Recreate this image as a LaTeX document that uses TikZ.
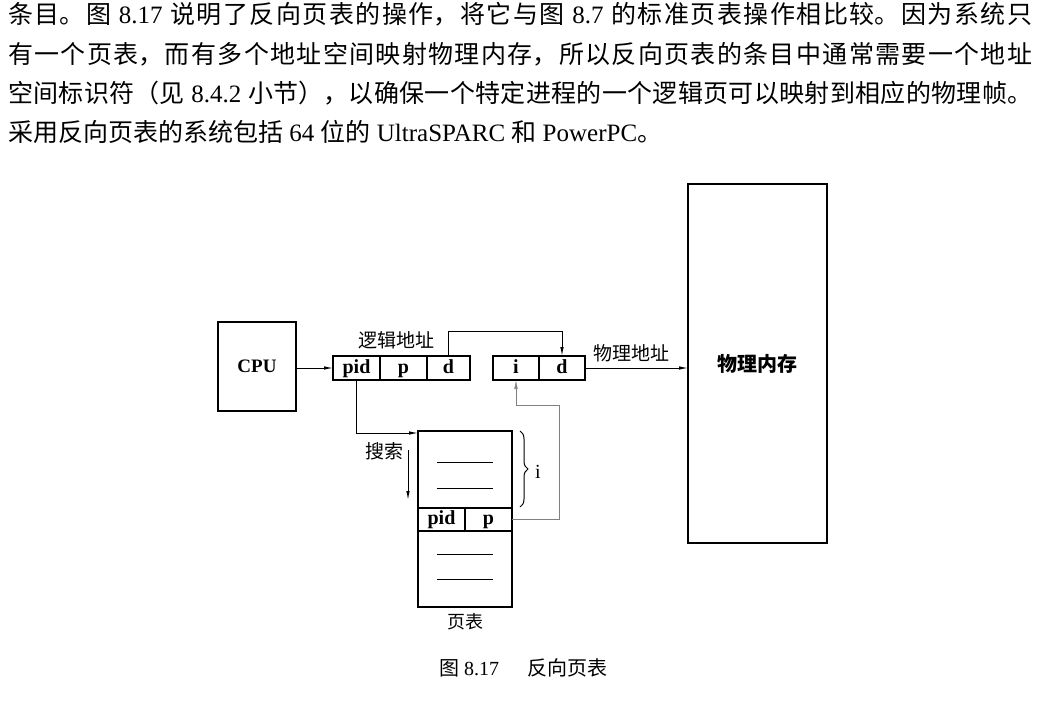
\documentclass[tikz,border=0pt]{standalone}
\usepackage{fontspec}
\setmainfont{Liberation Serif}
\newfontfamily\cjk{Noto Sans CJK SC}
\usetikzlibrary{positioning, arrows.meta, decorations.pathreplacing}
\XeTeXlinebreaklocale "zh"
\XeTeXlinebreakskip=0pt plus 3pt
\newcommand\fullline[1]{\parbox{1024pt}{\parfillskip=0pt\relax\noindent #1}}

\tikzset{
  box/.style={draw, line width=1.5pt, inner sep=0pt, outer sep=0pt,
    font=\fontsize{20}{24}\selectfont\bfseries},
  cell/.style={box, minimum height=24pt, text height=14pt, text depth=4pt},
  lab/.style={inner sep=0pt, font=\fontsize{19}{22}\selectfont\cjk},
  link/.style={line width=0.9pt, -{Latex[length=9pt,width=3.5pt]}},
  body/.style={inner sep=0pt, anchor=west, font=\fontsize{25}{30}\selectfont},
}

\begin{document}
\begin{tikzpicture}[x=1pt, y=-1pt]
    \useasboundingbox (0,0) rectangle (1044,701);

    % text above the figure
    \node[body] (line1) at (8,14)
      {\fullline{{\cjk 条目。图} 8.17 {\cjk 说明了反向页表的操作，将它与图} 8.7 {\cjk 的标准页表操作相比较。因为系统只}}};
    \node[body] (line2) at (8,54)
      {\fullline{{\cjk 有一个页表，而有多个地址空间映射物理内存，所以反向页表的条目中通常需要一个地址}}};
    \node[body] (line3) at (8,93)
      {\fullline{{\cjk 空间标识符（见} 8.4.2 {\cjk 小节），以确保一个特定进程的一个逻辑页可以映射到相应的物理帧。}}};
    \node[body] (line4) at (8,132)
      {{\cjk 采用反向页表的系统包括} 64 {\cjk 位的} UltraSPARC {\cjk 和} PowerPC{\cjk 。}};

    % cpu and addresses
    \node[box, minimum width=78pt, minimum height=89pt, font=\fontsize{19}{22}\selectfont\bfseries] (cpu) at (257,366.5) {CPU};

    \node[cell, minimum width=47pt] (lpid) at (356.5,368) {pid};
    \node[cell, minimum width=47pt, right=0pt of lpid] (lp) {p};
    \node[cell, minimum width=43pt, right=0pt of lp] (ld) {d};
    \node[lab] (laddr) at (396,340) {逻辑地址};

    \node[cell, minimum width=46pt] (pi) at (516,368) {i};
    \node[cell, minimum width=46pt, right=0pt of pi] (pd) {d};
    \node[lab] (paddr) at (631,353) {物理地址};

    \node[box, minimum width=139pt, minimum height=359pt, font=\fontsize{20}{24}\selectfont\cjk\bfseries] (mem) at (757.5,363.5) {物理内存};

    % page table
    \node[box, minimum width=94pt, minimum height=77pt] (ttop) at (465,469.5) {};
    \node[cell, minimum width=47pt, minimum height=23pt, anchor=north west] (tpid) at (ttop.south west) {pid};
    \node[cell, minimum width=47pt, minimum height=23pt, right=0pt of tpid] (tp) {p};
    \node[box, minimum width=94pt, minimum height=76pt, anchor=north west] (tbot) at (tpid.south west) {};
    \foreach \y in {462,488,554,579}
      \draw[line width=0.9pt] (437,\y) -- (493,\y);
    \node[lab, font=\fontsize{18}{22}\selectfont\cjk] (tlab) at (465.5,622) {页表};

    \draw[decorate, decoration={brace, amplitude=8pt}, line width=1pt] (520,431) -- (520,507);
    \node[inner sep=0pt, anchor=west, font=\fontsize{20}{24}\selectfont] (bi) at (535,472) {i};

    \node[lab] (search) at (384,451) {搜索};
    \coordinate (s1) at (408,450);
    \coordinate (s2) at (408,500);

    % connectors
    \draw[link] (cpu.east |- lpid.west) -- (lpid.west);
    \draw[link] (lpid.south) |- ([yshift=-2pt]ttop.north west);
    \draw[link] (ld.north) -- ++(0,-25) -| (pd.north);
    \draw[link] (pd.east) -- (pd.east -| mem.west);
    \draw[link, line width=0.6pt, gray] (tp.east) -- ++(47,0) |- ([yshift=-25pt]pi.south) -- (pi.south);
    \draw[link] (s1) -- (s2);

    % caption
    \node[inner sep=0pt, font=\fontsize{20}{24}\selectfont] (cap) at (523,668)
      {{\cjk 图} 8.17\hspace{1.4em}{\cjk 反向页表}};
\end{tikzpicture}
\end{document}
